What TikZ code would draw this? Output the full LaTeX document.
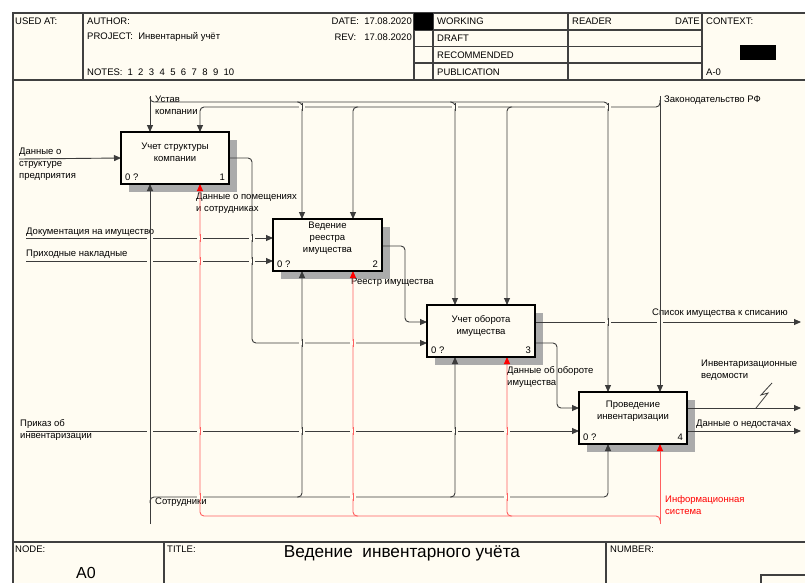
\documentclass[tikz,border=0pt]{standalone}
\usepackage{fontspec}
\setmainfont{Liberation Sans}
\usetikzlibrary{arrows.meta}
\definecolor{bg}{RGB}{255,252,242}
\definecolor{redline}{RGB}{255,95,95}
\definecolor{lin}{RGB}{60,60,60}
\begin{document}
\begin{tikzpicture}[x=1pt,y=-1pt,font=\fontsize{9.5}{12}\selectfont,
  lbl/.style={inner sep=0,anchor=west,align=left},
  conn/.style={draw=lin,line width=0.9,rounded corners=4},
  arr/.style={conn,-{Triangle[length=7,width=6]}},
  rconn/.style={draw=redline,line width=0.9,rounded corners=4},
  rarr/.style={rconn,-{Triangle[length=7,width=6,color=red]}},
  fbox/.style={draw=black,line width=1.6,fill=bg,inner sep=0,outer sep=0,anchor=north west,minimum height=52},
  shadowfill/.style={fill=black!33},
  frame/.style={draw=black!75,line width=1.2},
  boxtxt/.style={inner sep=0,align=center},
]
\useasboundingbox (0,0) rectangle (805,582);
\fill[white] (0,0) rectangle (806,583);
\fill[bg] (13,13) rectangle (806,583);

% ---------- header ----------
\draw[frame] (13,583) -- (13,13) -- (806,13);
\draw[frame] (13,80) -- (806,80);
\foreach \xx in {83,414,433,568,702} \draw[frame] (\xx,13) -- (\xx,80);
\foreach \yy in {30,46.5,63} \draw[frame] (414,\yy) -- (702,\yy);
\fill[black] (414,13) rectangle (433,30);
\fill[black] (740,45) rectangle (776,60);
\node[lbl] (hused) at (15,21) {USED AT:};
\node[lbl] (hauth) at (87,21) {AUTHOR:};
\node[lbl] (hproj) at (87,37) {PROJECT:\ \ Инвентарный учёт};
\node[lbl] (hnotes) at (87,72) {NOTES:\hspace{5pt}1\hspace{5.4pt}2\hspace{5.4pt}3\hspace{5.4pt}4\hspace{5.4pt}5\hspace{5.4pt}6\hspace{5.4pt}7\hspace{5.4pt}8\hspace{5.4pt}9\hspace{5.4pt}10};
\node[lbl,anchor=east] (hdate) at (412,21) {DATE:\ \ 17.08.2020};
\node[lbl,anchor=east] (hrev) at (412,37) {REV:\ \ \ 17.08.2020};
\node[lbl] (hwork) at (437,21) {WORKING};
\node[lbl] (hdraft) at (437,38) {DRAFT};
\node[lbl] (hrec) at (437,55) {RECOMMENDED};
\node[lbl] (hpub) at (437,72) {PUBLICATION};
\node[lbl] (hread) at (572,21) {READER};
\node[lbl,anchor=east] (hrdate) at (700,21) {DATE};
\node[lbl] (hctx) at (706,21) {CONTEXT:};
\node[lbl] (hctxa) at (706,72) {A-0};

% ---------- footer ----------
\draw[frame] (13,542) -- (806,542);
\draw[frame] (164,542) -- (164,583);
\draw[frame] (606,542) -- (606,583);
\draw[frame] (761,583) -- (761,575) -- (806,575);
\node[lbl] (fnode) at (15,549) {NODE:};
\node (fa0) at (86,573) {\fontsize{16}{16}\selectfont A0};
\node[lbl] (ftitle) at (167,549) {TITLE:};
\node (ftt) at (402,553) {\fontsize{17.2}{18}\selectfont Ведение\ \ инвентарного учёта};
\node[lbl] (fnum) at (610,549) {NUMBER:};

% ---------- shadows ----------
\fill[shadowfill] (129,140) rectangle (237,192);
\fill[shadowfill] (281,227) rectangle (390,279);
\fill[shadowfill] (435,313) rectangle (543,365);
\fill[shadowfill] (587,400) rectangle (695,452);

% ---------- boxes ----------
\node[fbox,minimum width=108] (b1) at (121,132) {};
\node[fbox,minimum width=109] (b2) at (273,219) {};
\node[fbox,minimum width=108] (b3) at (427,305) {};
\node[fbox,minimum width=108] (b4) at (579,392) {};

% ---------- labels ----------
\node[lbl] (lust) at (155,105.5) {Устав\\компании};
\node[lbl] (lzak) at (664,100) {Законодательство РФ};
\node[lbl] (lstr) at (19,164) {Данные о\\структуре\\предприятия};
\node[lbl] (lpom) at (196,203) {Данные о помещениях\\и сотрудниках};
\node[lbl] (ldoc) at (26,232) {Документация на имущество};
\node[lbl] (lnak) at (26,254) {Приходные накладные};
\node[lbl] (lreg) at (351,282) {Реестр имущества};
\node[lbl] (lsps) at (652,313) {Список имущества к списанию};
\node[lbl] (lobo) at (507,377) {Данные об обороте\\имущества};
\node[lbl] (lved) at (701,370) {Инвентаризационные\\ведомости};
\node[lbl] (lned) at (696,424) {Данные о недостачах};
\node[lbl] (lpri) at (20,430) {Приказ об\\инвентаризации};
\node[lbl] (lsot) at (155,502) {Сотрудники};
\node[lbl,text=red] (linf) at (665,505) {Информационная\\система};

% ---------- free ends ----------
\coordinate (inStr) at (19,159);
\coordinate (inDoc) at (26,238);
\coordinate (inNak) at (26,261);
\coordinate (inPri) at (26,431);
\coordinate (ctUst) at (150,96);
\coordinate (ctZak) at (660,96);
\coordinate (meSot) at (150,524);
\coordinate (meInf) at (660,524);
\coordinate (outSps) at (801,322);
\coordinate (outVed) at (801,408);
\coordinate (outNed) at (801,431);

% ---------- inputs ----------
\draw[arr] (inStr) -- (b1.west);
\draw[arr] (inDoc) -- (inDoc -| b2.west);
\draw[arr] (inNak) -- (inNak -| b2.west);
\draw[arr] (inPri) -- (inPri -| b4.west);

% ---------- controls ----------
\draw[arr] (ctUst) -- (b1.north -| 150,0);
\draw[arr] (150,97) -- (150,102) -- (608,102) -- (b4.north -| 608,0);
\draw[arr] (297,102) -- (302,102) -- (b2.north -| 302,0);
\draw[arr] (450,102) -- (455,102) -- (b3.north -| 455,0);
\draw[arr] (ctZak) -- (b4.north -| 660,0);
\draw[arr] (660,100) -- (660,107) -- (200,107) -- (b1.north -| 200,0);
\draw[arr] (358,107) -- (353,107) -- (b2.north -| 353,0);
\draw[arr] (512,107) -- (507,107) -- (b3.north -| 507,0);

% ---------- outputs / links ----------
\draw[arr] (b1.east) -- (b1.east -| 252,0) -- (252,343) -- (b3.west |- 0,343);
\draw[arr] (b2.east |- 0,246) -- (405,246) -- (405,322) -- (b3.west |- 0,322);
\draw[arr] (b3.east |- 0,322) -- (outSps);
\draw[arr] (b3.east |- 0,343) -- (557,343) -- (557,408) -- (b4.west |- 0,408);
\draw[arr] (b4.east |- 0,408) -- (outVed);
\draw[arr] (b4.east |- 0,431) -- (outNed);
\draw[lin,line width=0.8] (772,383) -- (761,395) -- (768,393) -- (756,408);

% ---------- mechanisms ----------
\draw[arr] (meSot) -- (b1.south -| 150,0);
\draw[arr] (150,503) -- (150,497) -- (608,497) -- (b4.south -| 608,0);
\draw[arr] (297,497) -- (302,497) -- (b2.south -| 302,0);
\draw[arr] (450,497) -- (455,497) -- (b3.south -| 455,0);
\draw[rarr] (meInf) -- (b4.south -| 660,0);
\draw[rarr] (660,521) -- (660,516) -- (200,516) -- (b1.south -| 200,0);
\draw[rarr] (358,516) -- (353,516) -- (b2.south -| 353,0);
\draw[rarr] (512,516) -- (507,516) -- (b3.south -| 507,0);

% ---------- crossing gaps ----------
\foreach \xx/\yy/\cc in {150/238/lin,150/261/lin,150/431/lin,
  200/238/redline,200/261/redline,200/431/redline,200/497/redline,
  252/238/lin,252/261/lin,302/107/lin,302/343/lin,302/431/lin,
  353/343/redline,353/431/redline,353/497/redline,455/107/lin,455/431/lin,
  507/431/redline,507/497/redline,608/107/lin,608/322/lin,660/322/lin}{
  \fill[bg] (\xx-3,\yy-1.6) rectangle (\xx+3,\yy+1.6);
  \draw[\cc,line width=0.9] (\xx,\yy-4) -- (\xx,\yy+4);
}

% ---------- box borders on top ----------
\foreach \bb in {b1,b2,b3,b4} \draw[black,line width=1.6] (\bb.north west) rectangle (\bb.south east);

% ---------- box texts ----------
\node[boxtxt] (t1) at (175,152.5) {Учет структуры\\компании};
\node[boxtxt] (t2) at (327.5,238.5) {Ведение\\реестра\\имущества};
\node[boxtxt] (t3) at (481,325.5) {Учет оборота\\имущества};
\node[boxtxt] (t4) at (633,411.5) {Проведение\\инвентаризации};
\foreach \bb/\nn in {b1/1,b2/2,b3/3,b4/4}{
  \node[lbl] at ([shift={(4,-7)}]\bb.south west) {0 ?};
  \node[lbl,anchor=east] at ([shift={(-4,-7)}]\bb.south east) {\nn};
}
\end{tikzpicture}
\end{document}
